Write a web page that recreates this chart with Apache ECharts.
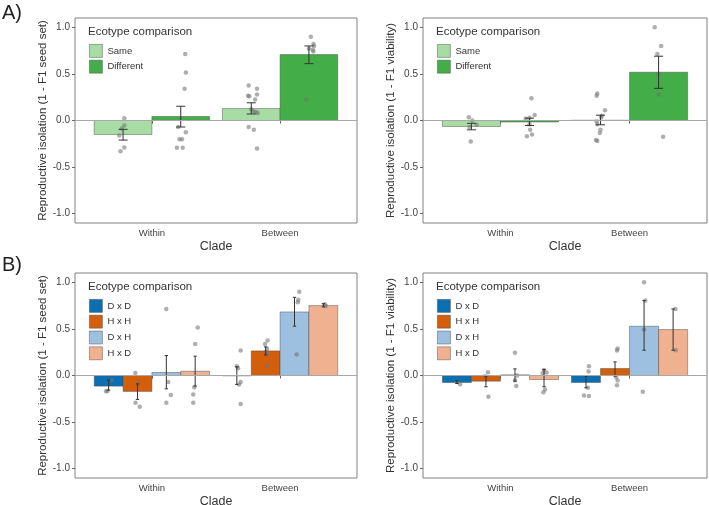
<!DOCTYPE html>
<html>
<head>
<meta charset="utf-8">
<script src="https://cdn.jsdelivr.net/npm/echarts@6.0.0/dist/echarts.min.js"></script>
<style>
  html, body { margin: 0; padding: 0; background: #fff; }
  #chart { width: 709px; height: 505px; }
</style>
</head>
<body>
<div id="chart"></div>
<script>
var clades = ['Within', 'Between'];
var yTicks = [-1, -0.5, 0, 0.5, 1];

// panel A: ecotype same / different
var groupsA = ['Same', 'Different'];
var colorsA = ['#a8dca5', '#43ad47'];

var seedA_mean = [[-0.15, 0.128], [0.043, 0.707]];
var seedA_lo = [[-0.21, 0.07], [-0.07, 0.61]];
var seedA_hi = [[-0.095, 0.19], [0.153, 0.80]];
// points as [jitter, value]
var seedA_pts = [
    [
        [[0.01, 0.025], [0.01, -0.054], [-0.01, -0.086], [-0.03, -0.16], [0.01, -0.29], [-0.02, -0.33]],
        [[-0.02, 0.375], [0.045, 0.34], [-0.025, 0.265], [-0.015, 0.26], [0.045, 0.28], [0.03, 0.225], [0.0, 0.12],
         [0.015, 0.1], [0.035, 0.09], [0.05, 0.08], [-0.02, -0.07], [0.02, -0.1], [0.045, -0.3]]
    ],
    [
        [[0.035, 0.714], [0.04, 0.515], [0.03, 0.34], [-0.02, -0.07], [0.04, -0.125], [-0.01, -0.2], [0.01, -0.2],
         [-0.03, -0.293], [0.015, -0.293]],
        [[0.015, 0.9], [0.035, 0.82], [0.04, 0.8], [0.0, 0.77], [0.03, 0.76], [0.035, 0.74], [-0.02, 0.225]]
    ]
];

var viabA_mean = [[-0.064, 0.003], [-0.016, 0.518]];
var viabA_lo = [[-0.1, -0.046], [-0.054, 0.345]];
var viabA_hi = [[-0.03, 0.057], [0.025, 0.69]];
var viabA_pts = [
    [
        [[-0.02, 0.035], [0.007, 0.0], [0.04, -0.045], [-0.015, -0.07], [-0.005, -0.225]],
        [[-0.025, 0.29], [-0.03, 0.265], [0.035, 0.11], [0.01, 0.05], [0.005, 0.035], [-0.03, -0.01], [-0.025, -0.04],
         [0.0, -0.1], [-0.005, -0.135], [-0.035, -0.21], [-0.025, -0.22]]
    ],
    [
        [[0.015, 0.24], [0.04, 0.06], [0.0, 0.03], [-0.03, 0.02], [0.0, -0.04], [0.005, -0.1], [0.02, -0.15], [-0.02, -0.17]],
        [[-0.03, 1.0], [0.02, 0.8], [-0.01, 0.715], [0.0, 0.5], [0.0, 0.28], [0.035, -0.175]]
    ]
];

// panel B: cross direction
var groupsB = ['D x D', 'H x H', 'D x H', 'H x D'];
var colorsB = ['#0c6fb2', '#d35e0c', '#9dc0e0', '#efb18f'];

var seedB_mean = [[-0.114, -0.004], [-0.171, 0.264], [0.032, 0.682], [0.046, 0.75]];
var seedB_lo = [[-0.157, -0.096], [-0.257, 0.221], [-0.143, 0.529], [-0.114, 0.736]];
var seedB_hi = [[-0.05, 0.093], [-0.09, 0.307], [0.214, 0.839], [0.207, 0.771]];
var seedB_pts = [
    [
        [[0.025, -0.05], [-0.01, -0.165], [-0.02, -0.168]],
        [[0.03, 0.268], [0.0, 0.1], [0.01, 0.079], [0.03, -0.071], [0.017, -0.096], [0.03, -0.307]]
    ],
    [
        [[-0.017, 0.027], [0.005, -0.085], [-0.015, -0.293], [0.017, -0.335]],
        [[0.015, 0.375], [-0.005, 0.339], [0.012, 0.286], [0.0, 0.254], [0.015, 0.232], [0.01, 0.107]]
    ],
    [
        [[0.0, 0.714], [0.015, -0.071], [0.035, -0.21], [0.0, -0.293]],
        [[0.037, 0.9], [0.03, 0.814], [0.025, 0.786], [0.017, 0.225]]
    ],
    [
        [[0.02, 0.514], [0.0, 0.339], [-0.007, -0.125], [-0.015, -0.204], [-0.015, -0.293]],
        [[0.012, 0.764], [0.018, 0.745]]
    ]
];

var viabB_mean = [[-0.075, -0.075], [-0.061, 0.075], [0.007, 0.529], [-0.043, 0.493]];
var viabB_lo = [[-0.086, -0.132], [-0.121, -0.007], [-0.061, 0.271], [-0.121, 0.271]];
var viabB_hi = [[-0.054, -0.007], [-0.007, 0.146], [0.071, 0.804], [0.064, 0.714]];
var viabB_pts = [
    [
        [[0.0, -0.064], [0.025, -0.093]],
        [[0.023, 0.1], [0.02, 0.043], [0.015, -0.132], [-0.015, -0.214], [0.023, -0.221]]
    ],
    [
        [[0.016, 0.036], [-0.007, -0.007], [0.019, -0.229]],
        [[0.02, 0.289], [0.015, 0.268], [0.01, -0.018], [0.02, -0.054], [0.015, -0.104]]
    ],
    [
        [[0.0, 0.243], [0.016, 0.0], [0.0, -0.05], [0.01, -0.114]],
        [[0.0, 1.0], [0.01, 0.804], [0.0, 0.493], [-0.01, -0.175]]
    ],
    [
        [[0.0, 0.06], [0.02, 0.032], [-0.01, 0.025], [0.008, -0.15], [-0.005, -0.18]],
        [[0.018, 0.714], [0.02, 0.271]]
    ]
];

var FONT = "'Liberation Sans', Arial, sans-serif";

var chart = echarts.init(document.getElementById('chart'));

function renderBar(params, api) {
    var x = api.value(0), y = api.value(1), w = api.value(2);
    var p0 = api.coord([x - w / 2, y]);
    var p1 = api.coord([x + w / 2, 0]);
    return {
        type: 'rect',
        shape: { x: p0[0], y: Math.min(p0[1], p1[1]), width: p1[0] - p0[0], height: Math.abs(p1[1] - p0[1]) },
        style: { fill: api.visual('color'), stroke: 'rgba(70,70,70,0.55)', lineWidth: 0.8 }
    };
}

function renderErr(params, api) {
    var x = api.value(0), c = api.value(3);
    var lo = api.coord([x, api.value(1)]);
    var hi = api.coord([x, api.value(2)]);
    var l = api.coord([x - c, 0])[0], r = api.coord([x + c, 0])[0];
    var st = { stroke: '#333', lineWidth: 1 };
    return {
        type: 'group',
        children: [
            { type: 'line', shape: { x1: lo[0], y1: lo[1], x2: hi[0], y2: hi[1] }, style: st },
            { type: 'line', shape: { x1: l, y1: lo[1], x2: r, y2: lo[1] }, style: st },
            { type: 'line', shape: { x1: l, y1: hi[1], x2: r, y2: hi[1] }, style: st }
        ]
    };
}

function panelSeries(idx, groups, colors, means, lo, hi, pts, cap) {
    var out = [];
    var n = groups.length, w = 0.9 / n;
    // zero line
    out.push({
        type: 'line', xAxisIndex: idx, yAxisIndex: idx, data: [], silent: true, z: 1,
        markLine: {
            silent: true, symbol: 'none', label: { show: false },
            lineStyle: { color: '#a8a8a8', width: 1, type: 'solid' },
            data: [{ yAxis: 0 }]
        }
    });
    for (var g = 0; g < n; g++) {
        var off = -0.45 + w * (g + 0.5);
        var bars = [], errs = [], dots = [];
        for (var i = 0; i < clades.length; i++) {
            var x = i + 1 + off;
            bars.push([x, means[g][i], w]);
            errs.push([x, lo[g][i], hi[g][i], cap]);
            pts[g][i].forEach(function (p) { dots.push([x + p[0], p[1]]); });
        }
        out.push({
            name: groups[g], type: 'custom', xAxisIndex: idx, yAxisIndex: idx, z: 2,
            itemStyle: { color: colors[g] }, renderItem: renderBar, data: bars
        });
        out.push({
            name: 'pts ' + groups[g], type: 'scatter', xAxisIndex: idx, yAxisIndex: idx, z: 3,
            symbolSize: 4.5, itemStyle: { color: 'rgba(115,115,115,0.72)' }, data: dots
        });
        out.push({
            name: 'err ' + groups[g], type: 'custom', xAxisIndex: idx, yAxisIndex: idx, z: 4,
            renderItem: renderErr, data: errs
        });
    }
    return out;
}

var grids = [
    { left: 75, top: 18, width: 282, height: 205 },
    { left: 423, top: 18, width: 284, height: 205 },
    { left: 75, top: 273, width: 282, height: 205 },
    { left: 423, top: 273, width: 284, height: 205 }
];
var yNames = [
    'Reproductive isolation (1 - F1 seed set)',
    'Reproductive isolation (1 - F1 viability)',
    'Reproductive isolation (1 - F1 seed set)',
    'Reproductive isolation (1 - F1 viability)'
];

var xAxes = [], yAxes = [], titles = [], legends = [];
grids.forEach(function (gr, k) {
    gr.show = true;
    gr.borderColor = '#808080';
    gr.borderWidth = 1;
    gr.containLabel = false;
    gr.outerBoundsMode = 'none';
    xAxes.push({
        type: 'value', gridIndex: k, min: 0.4, max: 2.6,
        name: 'Clade', nameLocation: 'middle', nameGap: 17,
        nameTextStyle: { fontFamily: FONT, fontSize: 12.5, color: '#333' },
        axisLine: { show: false },
        axisTick: { show: true, length: 3, lineStyle: { color: '#666' }, customValues: [1, 2] },
        axisLabel: {
            customValues: [1, 2], margin: 5, fontFamily: FONT, fontSize: 9.5, color: '#444',
            formatter: function (v) { return clades[Math.round(v) - 1]; }
        },
        splitLine: { show: false }
    });
    yAxes.push({
        type: 'value', gridIndex: k, min: -1.1, max: 1.1,
        name: yNames[k], nameLocation: 'middle', nameRotate: 90, nameGap: 23,
        nameTextStyle: { fontFamily: FONT, fontSize: 11.5, color: '#333' },
        axisLine: { show: false },
        axisTick: { show: true, length: 3, lineStyle: { color: '#666' }, customValues: yTicks },
        axisLabel: {
            customValues: yTicks, margin: 5, fontFamily: FONT, fontSize: 10, color: '#444',
            formatter: function (v) { return v.toFixed(1); }
        },
        splitLine: { show: false }
    });
    var gs = k < 2 ? groupsA : groupsB;
    var cs = k < 2 ? colorsA : colorsB;
    titles.push({
        text: 'Ecotype comparison', left: gr.left + 13, top: gr.top + 8, padding: 0,
        textStyle: { fontFamily: FONT, fontSize: 11.5, fontWeight: 'normal', color: '#333' }
    });
    legends.push({
        orient: 'vertical', left: gr.left + 14, top: gr.top + 26, padding: 0,
        itemWidth: 13, itemHeight: 13, itemGap: 2, selectedMode: false,
        textStyle: { fontFamily: FONT, fontSize: 9.5, color: '#333' },
        data: gs.map(function (g, j) {
            return { name: g, icon: 'rect', itemStyle: { color: cs[j], borderColor: 'rgba(70,70,70,0.55)', borderWidth: 0.8 } };
        })
    });
});
titles.push({ text: 'A)', left: 2, top: 3, padding: 0, textStyle: { fontFamily: FONT, fontSize: 20, fontWeight: 'normal', color: '#222' } });
titles.push({ text: 'B)', left: 2, top: 255, padding: 0, textStyle: { fontFamily: FONT, fontSize: 20, fontWeight: 'normal', color: '#222' } });

var series = []
    .concat(panelSeries(0, groupsA, colorsA, seedA_mean, seedA_lo, seedA_hi, seedA_pts, 0.035))
    .concat(panelSeries(1, groupsA, colorsA, viabA_mean, viabA_lo, viabA_hi, viabA_pts, 0.035))
    .concat(panelSeries(2, groupsB, colorsB, seedB_mean, seedB_lo, seedB_hi, seedB_pts, 0.013))
    .concat(panelSeries(3, groupsB, colorsB, viabB_mean, viabB_lo, viabB_hi, viabB_pts, 0.013));

chart.setOption({
    animation: false,
    backgroundColor: '#fff',
    title: titles,
    legend: legends,
    grid: grids,
    xAxis: xAxes,
    yAxis: yAxes,
    series: series
});
</script>
</body>
</html>
